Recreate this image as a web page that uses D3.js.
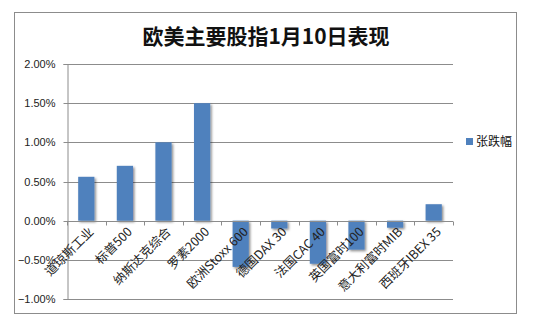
<!DOCTYPE html>
<html><head><meta charset="utf-8">
<script src="https://cdn.jsdelivr.net/npm/d3@7/dist/d3.min.js"></script>
<style>body{margin:0;background:#fff}svg{display:block}</style>
</head><body><svg id="c" width="537" height="322"></svg>
<script>
const title = "欧美主要股指1月10日表现";
const categories = ["道琼斯工业","标普500","纳斯达克综合","罗素2000","欧洲Stoxx 600","德国DAX 30","法国CAC 40","英国富时100","意大利富时MIB","西班牙IBEX 35"];
const values = [0.0056,0.0070,0.0100,0.0150,-0.0059,-0.0010,-0.0055,-0.0037,-0.0009,0.0021];
const yTicks = [-0.01,-0.005,0,0.005,0.01,0.015,0.02];
const seriesName = "张跌幅";

const svg = d3.select("#c");
const font = "'Noto Sans CJK SC','Liberation Sans',sans-serif";
const defs = svg.append("defs");
const f = defs.append("filter").attr("id","sh").attr("x","-30%").attr("y","-30%").attr("width","180%").attr("height","180%");
f.append("feDropShadow").attr("dx",1.5).attr("dy",1.5).attr("stdDeviation",1.2).attr("flood-color","#000").attr("flood-opacity",0.45);

svg.append("rect").attr("x",14.5).attr("y",12.5).attr("width",502).attr("height",301).attr("fill","#fff").attr("stroke","#8c8c8c");

svg.append("text").attr("x",266).attr("y",44).attr("text-anchor","middle").attr("font-family",font).attr("font-weight","bold").attr("font-size",21).attr("fill","#111").text(title);

const L=67,R=453;
const x = d3.scaleBand().domain(categories).range([L,R]).paddingInner(0.58).paddingOuter(0.29);
const y = d3.scaleLinear().domain([-0.01,0.02]).range([299,64]);

// gridlines
svg.append("g").selectAll("line").data(yTicks).join("line")
 .attr("x1",L).attr("x2",R).attr("y1",d=>Math.round(y(d))+0.5).attr("y2",d=>Math.round(y(d))+0.5)
 .attr("stroke","#8c8c8c").attr("stroke-width",1);

// y axis
const ya = svg.append("g").attr("transform",`translate(${L+0.5},0)`)
 .call(d3.axisLeft(y).tickValues(yTicks).tickFormat(d3.format(".2%")).tickSize(4).tickPadding(8));
ya.select(".domain").attr("stroke","#8c8c8c");
ya.selectAll(".tick line").attr("stroke","#8c8c8c");
ya.selectAll(".tick").attr("transform",d=>`translate(0,${Math.round(y(d))+0.5})`);
ya.selectAll("text").attr("font-family","'Liberation Sans',Arial,sans-serif").attr("font-size",11).attr("fill","#222");

// bars
svg.append("g").selectAll("rect").data(values).join("rect")
 .attr("x",(d,i)=>x(categories[i])).attr("width",x.bandwidth())
 .attr("y",d=>y(Math.max(0,d))).attr("height",d=>Math.abs(y(d)-y(0)))
 .attr("fill","#4f81bd").attr("filter","url(#sh)");

// x axis at zero
const y0 = Math.round(y(0))+0.5;
const xg = svg.append("g");
xg.append("line").attr("x1",L).attr("x2",R).attr("y1",y0).attr("y2",y0).attr("stroke","#8c8c8c");
xg.selectAll("line.t").data(d3.range(categories.length+1)).join("line").attr("class","t")
 .attr("x1",i=>Math.round(L+i*(R-L)/categories.length)+0.5).attr("x2",i=>Math.round(L+i*(R-L)/categories.length)+0.5)
 .attr("y1",y0).attr("y2",y0+4).attr("stroke","#8c8c8c");
xg.selectAll("text").data(categories).join("text")
 .attr("transform",d=>`translate(${x(d)+x.bandwidth()/2+5},${y0+8}) rotate(-45)`)
 .attr("text-anchor","end").attr("dy","0.35em")
 .attr("font-family",font).attr("font-size",12.5).attr("fill","#222").text(d=>d);

// legend
svg.append("rect").attr("x",466).attr("y",138).attr("width",7).attr("height",7).attr("fill","#4f81bd");
svg.append("text").attr("x",476).attr("y",146).attr("font-family",font).attr("font-size",12).attr("fill","#111").text(seriesName);
</script></body></html>
